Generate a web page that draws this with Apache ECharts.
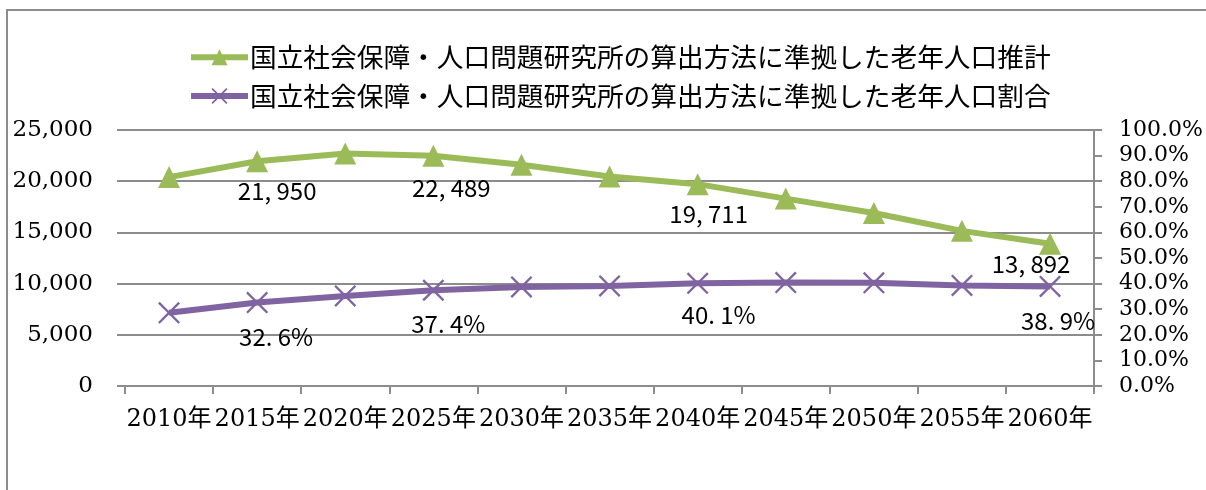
<!DOCTYPE html>
<html>
<head>
<meta charset="utf-8">
<script src="https://cdn.jsdelivr.net/npm/echarts@6/dist/echarts.min.js"></script>
<style>
  html, body { margin: 0; padding: 0; background: #fff; }
  #main { width: 1206px; height: 490px; }
</style>
</head>
<body>
<div id="main"></div>
<script>
const years = ['2010年', '2015年', '2020年', '2025年', '2030年', '2035年', '2040年', '2045年', '2050年', '2055年', '2060年'];
const elderlyPop = [20400, 21950, 22700, 22489, 21600, 20450, 19711, 18300, 16900, 15150, 13892];
const elderlyRatio = [28.6, 32.6, 35.2, 37.4, 38.7, 39.1, 40.1, 40.4, 40.3, 39.3, 38.9];
const popName = '国立社会保障・人口問題研究所の算出方法に準拠した老年人口推計';
const ratioName = '国立社会保障・人口問題研究所の算出方法に準拠した老年人口割合';

const chart = echarts.init(document.getElementById('main'));

const axisFont = "'DejaVu Serif', 'Noto Sans CJK JP', serif";
const labelFont = "'Noto Sans CJK JP', sans-serif";
const gridColor = '#8c8c8c';
const xMark = 'path://M0,1.5 L1.5,0 L10,8.5 L18.5,0 L20,1.5 L11.5,10 L20,18.5 L18.5,20 L10,11.5 L1.5,20 L0,18.5 L8.5,10 Z';

// which points carry a value label, and how far it is nudged
const popLabels = { 1: [20, 2], 3: [18, 4], 6: [11, 2], 10: [-19, -8] };
const ratioLabels = { 1: [19, 6], 3: [15, 6], 6: [21, 4], 10: [8, 6] };

function withLabels(values, marks, fmt) {
  return values.map((v, i) => {
    if (!marks[i]) return v;
    return {
      value: v,
      label: {
        show: true,
        position: 'bottom',
        offset: marks[i],
        formatter: fmt,
        fontFamily: labelFont,
        fontSize: 24,
        color: '#000'
      }
    };
  });
}

const option = {
  animation: false,
  backgroundColor: '#fff',
  graphic: [{
    type: 'polyline',
    shape: { points: [[7, 500], [7, 10], [1220, 10]] },
    style: { stroke: gridColor, lineWidth: 2, fill: null }
  }],
  legend: {
    orient: 'vertical',
    left: 183,
    top: 39,
    itemWidth: 57,
    itemHeight: 20,
    itemGap: 12,
    lineStyle: { width: 6 },
    textStyle: { fontFamily: "'Noto Sans CJK JP', sans-serif", fontSize: 26.7, color: '#000', padding: [0, 0, 0, -3] },
    data: [popName, ratioName]
  },
  grid: { left: 125, right: 108, top: 130, bottom: 104, containLabel: false },
  xAxis: {
    type: 'category',
    data: years,
    boundaryGap: true,
    axisLine: { lineStyle: { color: gridColor, width: 2 } },
    axisTick: { show: true, length: 8, lineStyle: { color: gridColor, width: 2 } },
    axisLabel: { margin: 22, fontFamily: axisFont, fontSize: 24, color: '#000', interval: 0 }
  },
  yAxis: [{
    type: 'value',
    min: 0,
    max: 25000,
    interval: 5000,
    axisLine: { show: false },
    axisTick: { show: true, length: 8, lineStyle: { color: gridColor, width: 2 } },
    splitLine: { lineStyle: { color: gridColor, width: 2 } },
    axisLabel: {
      margin: 32,
      fontFamily: axisFont,
      fontSize: 23,
      color: '#000',
      formatter: v => v.toLocaleString('en-US')
    }
  }, {
    type: 'value',
    position: 'right',
    min: 0,
    max: 100,
    interval: 10,
    axisLine: { show: true, lineStyle: { color: gridColor, width: 2 } },
    axisTick: { show: true, length: 8, lineStyle: { color: gridColor, width: 2 } },
    splitLine: { show: false },
    axisLabel: {
      margin: 25,
      fontFamily: axisFont,
      fontSize: 22,
      color: '#000',
      formatter: v => v.toFixed(1) + '%'
    }
  }],
  series: [{
    name: popName,
    type: 'line',
    yAxisIndex: 0,
    data: withLabels(elderlyPop, popLabels, p => p.value.toLocaleString('en-US').replace(',', ', ')),
    symbol: 'triangle',
    symbolSize: 22,
    lineStyle: { color: '#9bbb59', width: 6 },
    itemStyle: { color: '#9bbb59' },
    z: 3
  }, {
    name: ratioName,
    type: 'line',
    yAxisIndex: 1,
    data: withLabels(elderlyRatio, ratioLabels, p => p.value.toFixed(1).replace('.', '. ') + '%'),
    symbol: xMark,
    symbolSize: 22,
    lineStyle: { color: '#8064a2', width: 6 },
    itemStyle: { color: '#8064a2' },
    z: 2
  }]
};

chart.setOption(option);
window.onresize = () => chart.resize();
</script>
</body>
</html>
